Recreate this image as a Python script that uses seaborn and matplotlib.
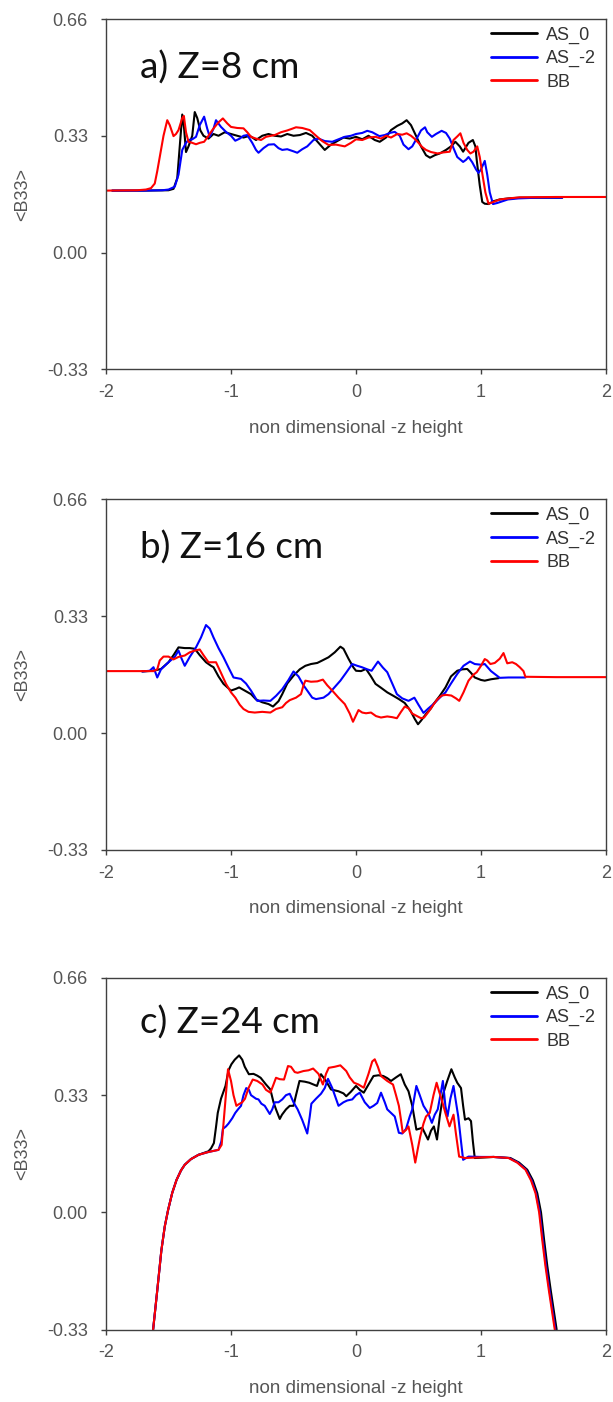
import matplotlib
matplotlib.use("Agg")
import matplotlib.pyplot as plt
import pandas as pd
import seaborn as sns
from matplotlib import font_manager

# ---------------------------------------------------------------- data
SERIES_NAMES = ["AS_0", "AS_-2", "BB"]
SERIES_COLORS = ["#000000", "#0000ff", "#ff0000"]
PANEL_TITLES = ["a) Z=8 cm", "b) Z=16 cm", "c) Z=24 cm"]
X_TICKS = [-2, -1, 0, 1, 2]
Y_TICKS = [-0.33, 0.00, 0.33, 0.66]

# panel a  (x = non dimensional -z height, y = <B33>)
A_AS0 = [(-1.95, 0.175), (-1.7, 0.175), (-1.5, 0.176), (-1.46, 0.18), (-1.43, 0.21), (-1.41, 0.30),
         (-1.39, 0.39), (-1.375, 0.35), (-1.36, 0.284), (-1.34, 0.30), (-1.31, 0.33), (-1.29, 0.397),
         (-1.27, 0.38), (-1.245, 0.345), (-1.22, 0.33), (-1.18, 0.322), (-1.14, 0.335), (-1.10, 0.33),
         (-1.05, 0.34), (-1.0, 0.335), (-0.95, 0.33), (-0.90, 0.325), (-0.85, 0.33), (-0.80, 0.318),
         (-0.75, 0.33), (-0.70, 0.335), (-0.65, 0.33), (-0.60, 0.328), (-0.55, 0.335), (-0.50, 0.33),
         (-0.45, 0.332), (-0.40, 0.338), (-0.35, 0.33), (-0.30, 0.31), (-0.25, 0.29), (-0.20, 0.305),
         (-0.15, 0.315), (-0.10, 0.325), (-0.05, 0.322), (0.0, 0.327), (0.05, 0.32), (0.10, 0.33),
         (0.15, 0.318), (0.19, 0.313), (0.24, 0.325), (0.28, 0.346), (0.33, 0.358), (0.37, 0.365),
         (0.405, 0.374), (0.44, 0.36), (0.48, 0.33), (0.52, 0.30), (0.56, 0.275), (0.592, 0.268),
         (0.63, 0.275), (0.67, 0.28), (0.72, 0.29), (0.76, 0.30), (0.795, 0.313), (0.83, 0.30),
         (0.857, 0.285), (0.90, 0.31), (0.935, 0.318), (0.955, 0.30), (0.966, 0.261), (0.99, 0.19),
         (1.01, 0.143), (1.03, 0.138), (1.06, 0.137), (1.10, 0.145), (1.15, 0.150), (1.22, 0.153),
         (1.31, 0.155), (1.45, 0.155), (1.65, 0.155)]
A_AS2 = [(-1.95, 0.175), (-1.7, 0.175), (-1.55, 0.176), (-1.50, 0.178), (-1.45, 0.186), (-1.42, 0.22),
         (-1.39, 0.29), (-1.36, 0.31), (-1.34, 0.318), (-1.31, 0.32), (-1.28, 0.327), (-1.25, 0.36),
         (-1.215, 0.384), (-1.19, 0.35), (-1.17, 0.327), (-1.14, 0.35), (-1.12, 0.374), (-1.08, 0.355),
         (-1.04, 0.341), (-1.0, 0.33), (-0.966, 0.316), (-0.93, 0.322), (-0.90, 0.33), (-0.87, 0.332),
         (-0.83, 0.31), (-0.80, 0.29), (-0.78, 0.282), (-0.74, 0.295), (-0.70, 0.305), (-0.655, 0.306),
         (-0.62, 0.295), (-0.59, 0.29), (-0.55, 0.292), (-0.50, 0.286), (-0.47, 0.282), (-0.43, 0.292),
         (-0.39, 0.30), (-0.34, 0.318), (-0.30, 0.322), (-0.25, 0.315), (-0.19, 0.313), (-0.14, 0.32),
         (-0.09, 0.327), (-0.04, 0.33), (0.0, 0.335), (0.05, 0.338), (0.09, 0.344), (0.13, 0.34),
         (0.187, 0.329), (0.23, 0.332), (0.27, 0.338), (0.31, 0.341), (0.35, 0.33), (0.38, 0.305),
         (0.42, 0.292), (0.45, 0.30), (0.49, 0.325), (0.52, 0.345), (0.552, 0.354), (0.57, 0.34),
         (0.607, 0.327), (0.64, 0.335), (0.685, 0.344), (0.72, 0.338), (0.75, 0.322), (0.78, 0.295),
         (0.81, 0.27), (0.857, 0.256), (0.88, 0.262), (0.90, 0.27), (0.93, 0.255), (0.96, 0.235),
         (0.98, 0.225), (1.0, 0.235), (1.03, 0.259), (1.05, 0.22), (1.07, 0.17), (1.096, 0.137),
         (1.13, 0.14), (1.215, 0.15), (1.30, 0.153), (1.45, 0.155), (1.65, 0.155)]
A_BB = [(-2.0, 0.175), (-1.75, 0.176), (-1.68, 0.178), (-1.64, 0.182), (-1.61, 0.195), (-1.59, 0.23),
        (-1.57, 0.27), (-1.54, 0.33), (-1.51, 0.374), (-1.49, 0.36), (-1.46, 0.329), (-1.44, 0.335),
        (-1.42, 0.346), (-1.39, 0.38), (-1.377, 0.386), (-1.36, 0.34), (-1.34, 0.313), (-1.31, 0.31),
        (-1.28, 0.306), (-1.25, 0.31), (-1.215, 0.313), (-1.18, 0.33), (-1.15, 0.346), (-1.10, 0.368),
        (-1.065, 0.379), (-1.03, 0.365), (-1.0, 0.355), (-0.95, 0.352), (-0.9, 0.351), (-0.87, 0.34),
        (-0.84, 0.327), (-0.80, 0.322), (-0.76, 0.318), (-0.72, 0.327), (-0.68, 0.33), (-0.65, 0.332),
        (-0.60, 0.34), (-0.55, 0.345), (-0.51, 0.35), (-0.48, 0.354), (-0.43, 0.352), (-0.37, 0.346),
        (-0.31, 0.327), (-0.27, 0.315), (-0.22, 0.304), (-0.16, 0.305), (-0.09, 0.30), (-0.04, 0.31),
        (0.0, 0.32), (0.05, 0.318), (0.1, 0.325), (0.156, 0.327), (0.2, 0.322), (0.24, 0.33),
        (0.28, 0.325), (0.33, 0.335), (0.37, 0.333), (0.405, 0.337), (0.44, 0.33), (0.467, 0.322),
        (0.5, 0.31), (0.53, 0.298), (0.56, 0.29), (0.6, 0.284), (0.654, 0.28), (0.70, 0.283),
        (0.75, 0.285), (0.78, 0.318), (0.81, 0.328), (0.835, 0.337), (0.86, 0.31), (0.89, 0.29),
        (0.915, 0.28), (0.94, 0.285), (0.97, 0.30), (0.99, 0.27), (1.01, 0.224), (1.035, 0.17),
        (1.06, 0.138), (1.10, 0.143), (1.15, 0.15), (1.25, 0.154), (1.31, 0.156), (1.6, 0.157),
        (2.0, 0.157)]

# panel b
B_AS0 = [(-1.71, 0.174), (-1.62, 0.176), (-1.56, 0.181), (-1.50, 0.20), (-1.46, 0.22), (-1.42, 0.242),
         (-1.37, 0.24), (-1.33, 0.24), (-1.29, 0.238), (-1.25, 0.22), (-1.20, 0.20), (-1.16, 0.19),
         (-1.14, 0.186), (-1.10, 0.16), (-1.06, 0.139), (-1.0, 0.12), (-0.96, 0.125), (-0.935, 0.129),
         (-0.89, 0.12), (-0.84, 0.11), (-0.80, 0.095), (-0.75, 0.087), (-0.70, 0.082), (-0.664, 0.075),
         (-0.62, 0.09), (-0.59, 0.11), (-0.55, 0.14), (-0.5, 0.162), (-0.45, 0.18), (-0.405, 0.19),
         (-0.36, 0.195), (-0.31, 0.198), (-0.27, 0.205), (-0.22, 0.214), (-0.17, 0.228), (-0.125, 0.244),
         (-0.10, 0.238), (-0.06, 0.21), (-0.02, 0.185), (0.0, 0.176), (0.04, 0.175), (0.08, 0.181),
         (0.12, 0.16), (0.156, 0.139), (0.20, 0.128), (0.25, 0.115), (0.30, 0.105), (0.343, 0.096),
         (0.39, 0.085), (0.436, 0.063), (0.47, 0.04), (0.496, 0.025), (0.52, 0.035), (0.56, 0.054),
         (0.60, 0.07), (0.62, 0.082), (0.67, 0.105), (0.716, 0.129), (0.76, 0.16), (0.81, 0.176),
         (0.85, 0.18), (0.89, 0.181), (0.92, 0.17), (0.95, 0.157), (1.0, 0.15), (1.03, 0.148),
         (1.08, 0.152), (1.14, 0.155)]
B_AS2 = [(-1.71, 0.174), (-1.65, 0.176), (-1.62, 0.186), (-1.59, 0.157), (-1.56, 0.18), (-1.50, 0.20),
         (-1.45, 0.215), (-1.42, 0.233), (-1.395, 0.21), (-1.37, 0.19), (-1.33, 0.215), (-1.28, 0.242),
         (-1.24, 0.27), (-1.20, 0.305), (-1.17, 0.295), (-1.14, 0.27), (-1.10, 0.24), (-1.06, 0.214),
         (-1.02, 0.185), (-0.98, 0.157), (-0.92, 0.153), (-0.88, 0.14), (-0.84, 0.12), (-0.79, 0.091),
         (-0.74, 0.092), (-0.685, 0.091), (-0.64, 0.105), (-0.59, 0.124), (-0.54, 0.15), (-0.5, 0.174),
         (-0.46, 0.16), (-0.42, 0.135), (-0.39, 0.12), (-0.35, 0.10), (-0.32, 0.096), (-0.26, 0.10),
         (-0.22, 0.11), (-0.17, 0.13), (-0.125, 0.148), (-0.08, 0.17), (-0.03, 0.195), (0.01, 0.19),
         (0.047, 0.186), (0.09, 0.18), (0.125, 0.176), (0.176, 0.202), (0.215, 0.185), (0.25, 0.172),
         (0.29, 0.14), (0.327, 0.11), (0.37, 0.098), (0.42, 0.091), (0.467, 0.10), (0.50, 0.08),
         (0.54, 0.057), (0.58, 0.07), (0.62, 0.082), (0.67, 0.10), (0.716, 0.115), (0.76, 0.14),
         (0.81, 0.167), (0.86, 0.19), (0.912, 0.202), (0.95, 0.195), (1.0, 0.193), (1.03, 0.195),
         (1.08, 0.175), (1.15, 0.156), (1.22, 0.157), (1.28, 0.157), (1.355, 0.157)]
B_BB = [(-2.0, 0.175), (-1.62, 0.175), (-1.59, 0.18), (-1.57, 0.205), (-1.54, 0.216), (-1.50, 0.216),
        (-1.46, 0.208), (-1.42, 0.215), (-1.37, 0.219), (-1.33, 0.228), (-1.29, 0.233), (-1.25, 0.236),
        (-1.22, 0.22), (-1.18, 0.20), (-1.12, 0.20), (-1.08, 0.17), (-1.04, 0.139), (-1.0, 0.115),
        (-0.965, 0.10), (-0.93, 0.08), (-0.9, 0.068), (-0.86, 0.06), (-0.81, 0.058), (-0.75, 0.06),
        (-0.685, 0.058), (-0.64, 0.068), (-0.59, 0.073), (-0.56, 0.085), (-0.53, 0.093), (-0.48, 0.10),
        (-0.44, 0.11), (-0.42, 0.135), (-0.405, 0.148), (-0.36, 0.145), (-0.31, 0.146), (-0.265, 0.151),
        (-0.23, 0.135), (-0.19, 0.12), (-0.14, 0.10), (-0.09, 0.082), (-0.05, 0.055), (-0.024, 0.032),
        (0.0, 0.05), (0.02, 0.065), (0.05, 0.058), (0.08, 0.056), (0.12, 0.058), (0.16, 0.048),
        (0.20, 0.044), (0.25, 0.047), (0.29, 0.045), (0.327, 0.042), (0.36, 0.06), (0.39, 0.075),
        (0.42, 0.07), (0.45, 0.055), (0.483, 0.049), (0.52, 0.042), (0.545, 0.044), (0.58, 0.06),
        (0.623, 0.082), (0.65, 0.095), (0.685, 0.106), (0.72, 0.108), (0.763, 0.106), (0.80, 0.098),
        (0.826, 0.091), (0.86, 0.115), (0.9, 0.148), (0.94, 0.165), (0.966, 0.172), (1.0, 0.19),
        (1.03, 0.209), (1.05, 0.205), (1.075, 0.195), (1.11, 0.198), (1.15, 0.21), (1.18, 0.226),
        (1.21, 0.197), (1.25, 0.20), (1.28, 0.195), (1.31, 0.186), (1.34, 0.175), (1.355, 0.159),
        (1.6, 0.158), (2.0, 0.158)]

# panel c
C_AS0 = [(-1.623, -0.33), (-1.59, -0.22), (-1.557, -0.107), (-1.53, -0.04), (-1.503, 0.007),
         (-1.47, 0.055), (-1.436, 0.091), (-1.40, 0.118), (-1.37, 0.134), (-1.32, 0.15), (-1.26, 0.162),
         (-1.18, 0.172), (-1.16, 0.18), (-1.137, 0.195), (-1.12, 0.24), (-1.106, 0.28), (-1.08, 0.32),
         (-1.044, 0.356), (-1.02, 0.40), (-0.997, 0.417), (-0.97, 0.43), (-0.935, 0.442), (-0.91, 0.43),
         (-0.89, 0.41), (-0.857, 0.389), (-0.82, 0.39), (-0.79, 0.385), (-0.763, 0.379), (-0.72, 0.36),
         (-0.685, 0.346), (-0.66, 0.31), (-0.64, 0.29), (-0.61, 0.263), (-0.592, 0.275), (-0.56, 0.29),
         (-0.53, 0.30), (-0.50, 0.30), (-0.48, 0.33), (-0.452, 0.37), (-0.41, 0.368), (-0.374, 0.365),
         (-0.34, 0.36), (-0.312, 0.356), (-0.28, 0.389), (-0.24, 0.37), (-0.20, 0.346), (-0.14, 0.341),
         (-0.10, 0.335), (-0.078, 0.327), (-0.04, 0.34), (0.0, 0.356), (0.03, 0.345), (0.062, 0.337),
         (0.10, 0.36), (0.14, 0.384), (0.18, 0.386), (0.218, 0.384), (0.25, 0.378), (0.28, 0.37),
         (0.32, 0.38), (0.358, 0.389), (0.39, 0.36), (0.42, 0.341), (0.45, 0.30), (0.483, 0.233),
         (0.53, 0.238), (0.555, 0.22), (0.576, 0.205), (0.60, 0.23), (0.623, 0.242), (0.648, 0.205),
         (0.67, 0.27), (0.70, 0.337), (0.73, 0.37), (0.763, 0.403), (0.79, 0.38), (0.81, 0.365),
         (0.84, 0.35), (0.857, 0.30), (0.872, 0.261), (0.90, 0.265), (0.92, 0.257), (0.935, 0.2),
         (0.95, 0.153), (1.0, 0.154), (1.1, 0.156), (1.235, 0.153), (1.305, 0.14), (1.37, 0.12),
         (1.415, 0.09), (1.45, 0.054), (1.48, 0.0), (1.505, -0.078), (1.53, -0.15), (1.558, -0.22),
         (1.605, -0.33)]
C_AS2 = [(-1.623, -0.33), (-1.59, -0.22), (-1.557, -0.107), (-1.53, -0.04), (-1.503, 0.007),
         (-1.47, 0.055), (-1.436, 0.091), (-1.40, 0.118), (-1.37, 0.134), (-1.32, 0.15), (-1.26, 0.162),
         (-1.18, 0.17), (-1.10, 0.176), (-1.077, 0.20), (-1.065, 0.235), (-1.04, 0.242), (-1.02, 0.25),
         (-0.99, 0.265), (-0.966, 0.28), (-0.944, 0.29), (-0.92, 0.30), (-0.90, 0.33), (-0.878, 0.35),
         (-0.857, 0.345), (-0.84, 0.33), (-0.80, 0.32), (-0.78, 0.318), (-0.757, 0.306), (-0.73, 0.30),
         (-0.69, 0.277), (-0.67, 0.29), (-0.65, 0.31), (-0.62, 0.31), (-0.59, 0.318), (-0.56, 0.33),
         (-0.53, 0.334), (-0.50, 0.31), (-0.467, 0.29), (-0.43, 0.26), (-0.39, 0.222), (-0.37, 0.27),
         (-0.357, 0.306), (-0.32, 0.32), (-0.28, 0.334), (-0.25, 0.35), (-0.224, 0.376), (-0.19, 0.35),
         (-0.16, 0.32), (-0.14, 0.30), (-0.10, 0.31), (-0.07, 0.315), (-0.03, 0.318), (0.0, 0.33),
         (0.03, 0.337), (0.07, 0.31), (0.11, 0.294), (0.14, 0.30), (0.17, 0.308), (0.2, 0.337),
         (0.23, 0.31), (0.25, 0.29), (0.28, 0.28), (0.31, 0.27), (0.343, 0.224), (0.37, 0.222),
         (0.40, 0.235), (0.43, 0.27), (0.45, 0.29), (0.483, 0.356), (0.51, 0.33), (0.54, 0.30),
         (0.576, 0.28), (0.607, 0.252), (0.63, 0.275), (0.654, 0.29), (0.68, 0.34), (0.695, 0.37),
         (0.715, 0.30), (0.732, 0.27), (0.755, 0.32), (0.78, 0.356), (0.80, 0.31), (0.818, 0.27),
         (0.84, 0.20), (0.857, 0.148), (0.9, 0.157), (1.0, 0.156), (1.1, 0.156), (1.225, 0.153),
         (1.295, 0.14), (1.36, 0.12), (1.405, 0.09), (1.44, 0.054), (1.47, 0.0), (1.495, -0.078),
         (1.52, -0.15), (1.548, -0.22), (1.595, -0.33)]
C_BB = [(-1.623, -0.33), (-1.59, -0.22), (-1.557, -0.107), (-1.53, -0.04), (-1.503, 0.007),
        (-1.47, 0.055), (-1.436, 0.091), (-1.40, 0.118), (-1.37, 0.134), (-1.32, 0.15), (-1.26, 0.162),
        (-1.18, 0.17), (-1.10, 0.176), (-1.075, 0.19), (-1.06, 0.25), (-1.044, 0.318), (-1.024, 0.403),
        (-1.0, 0.37), (-0.98, 0.33), (-0.957, 0.30), (-0.94, 0.304), (-0.91, 0.31), (-0.888, 0.32),
        (-0.86, 0.35), (-0.826, 0.374), (-0.79, 0.37), (-0.748, 0.36), (-0.72, 0.345), (-0.685, 0.337),
        (-0.66, 0.36), (-0.64, 0.379), (-0.61, 0.375), (-0.576, 0.374), (-0.544, 0.412), (-0.52, 0.41),
        (-0.49, 0.395), (-0.467, 0.393), (-0.42, 0.398), (-0.38, 0.40), (-0.343, 0.405), (-0.30, 0.39),
        (-0.265, 0.36), (-0.24, 0.39), (-0.218, 0.407), (-0.17, 0.41), (-0.125, 0.414), (-0.078, 0.398),
        (-0.05, 0.38), (-0.016, 0.365), (0.02, 0.36), (0.062, 0.351), (0.10, 0.39), (0.13, 0.425),
        (0.15, 0.431), (0.175, 0.41), (0.2, 0.384), (0.25, 0.37), (0.296, 0.36), (0.32, 0.33),
        (0.343, 0.30), (0.36, 0.26), (0.374, 0.224), (0.40, 0.232), (0.42, 0.242), (0.45, 0.19),
        (0.474, 0.14), (0.495, 0.18), (0.514, 0.214), (0.54, 0.25), (0.56, 0.27), (0.59, 0.28),
        (0.62, 0.33), (0.645, 0.365), (0.665, 0.34), (0.685, 0.318), (0.715, 0.28), (0.748, 0.242),
        (0.765, 0.26), (0.78, 0.275), (0.80, 0.22), (0.825, 0.157), (0.872, 0.153), (1.0, 0.155),
        (1.1, 0.156), (1.22, 0.153), (1.29, 0.14), (1.356, 0.12), (1.40, 0.09), (1.436, 0.054),
        (1.465, 0.0), (1.49, -0.078), (1.515, -0.15), (1.543, -0.22), (1.59, -0.33)]

PANELS = [(A_AS0, A_AS2, A_BB), (B_AS0, B_AS2, B_BB), (C_AS0, C_AS2, C_BB)]

# ---------------------------------------------------------------- style
sns.set_style("white")


def first_available(*names):
    installed = {f.name for f in font_manager.fontManager.ttflist}
    for name in names:
        if name in installed:
            return name
    return "DejaVu Sans"


BODY_FONT = first_available("Liberation Sans Narrow", "Liberation Sans", "Arial")
TITLE_FONT = first_available("Lato", "Open Sans", "DejaVu Sans")
plt.rcParams["font.family"] = [BODY_FONT, "DejaVu Sans"]

TEXT_GREY = "#555555"
SPINE = "#404040"

fig = plt.figure(figsize=(6.13, 14.02), dpi=100)
W, H = 613.0, 1402.0
# (top, bottom) of each plotting area in pixels
AREAS = [(19.0, 369.3), (499.3, 850.0), (978.0, 1329.5)]
TITLE_Y = [0.862, 0.863, 0.872]

for (top, bottom), series, title, ty in zip(AREAS, PANELS, PANEL_TITLES, TITLE_Y):
    ax = fig.add_axes([106 / W, 1 - bottom / H, 500 / W, (bottom - top) / H])
    for pts, name, color in zip(series, SERIES_NAMES, SERIES_COLORS):
        df = pd.DataFrame(pts, columns=["z", "b33"])
        sns.lineplot(data=df, x="z", y="b33", ax=ax, color=color, lw=1.5,
                     sort=False, estimator=None, label=name, legend=False)
    ax.set_xlim(-2, 2)
    ax.set_ylim(-0.33, 0.66)
    ax.set_xticks(X_TICKS)
    ax.set_xticklabels([f"{t:d}" for t in X_TICKS])
    ax.set_yticks(Y_TICKS)
    ax.set_yticklabels([f"{t:.2f}" for t in Y_TICKS])
    for sp in ax.spines.values():
        sp.set_visible(True)
        sp.set_color(SPINE)
        sp.set_linewidth(1.0)
    ax.tick_params(axis="both", direction="out", length=3.5, width=1, color=SPINE,
                   labelsize=13, labelcolor=TEXT_GREY)
    ax.tick_params(axis="y", pad=9.5)
    ax.tick_params(axis="x", pad=7)
    ax.tick_params(left=True, bottom=True)

    ax.set_xlabel("non dimensional -z height", fontsize=13.5, color=TEXT_GREY)
    ax.xaxis.label.set_va("center")
    ax.xaxis.set_label_coords(0.5, -0.168)
    ax.set_ylabel("<B33>", fontsize=13, color=TEXT_GREY)
    ax.yaxis.label.set_va("center")
    ax.yaxis.set_label_coords(-0.166, 0.5)

    ax.text(0.067, ty, title, transform=ax.transAxes, ha="left", va="center",
            fontsize=26.5, color="#111111", family=[TITLE_FONT, "DejaVu Sans"])

    leg = ax.legend(loc="upper left", bbox_to_anchor=(0.77, 0.979), frameon=False,
                    fontsize=13, handlelength=2.55, handletextpad=0.5,
                    labelspacing=0.36, borderpad=0, borderaxespad=0)
    for txt in leg.get_texts():
        txt.set_color("#333333")
    for ln in leg.get_lines():
        ln.set_linewidth(2.0)

fig.savefig("out.png", dpi=100)
